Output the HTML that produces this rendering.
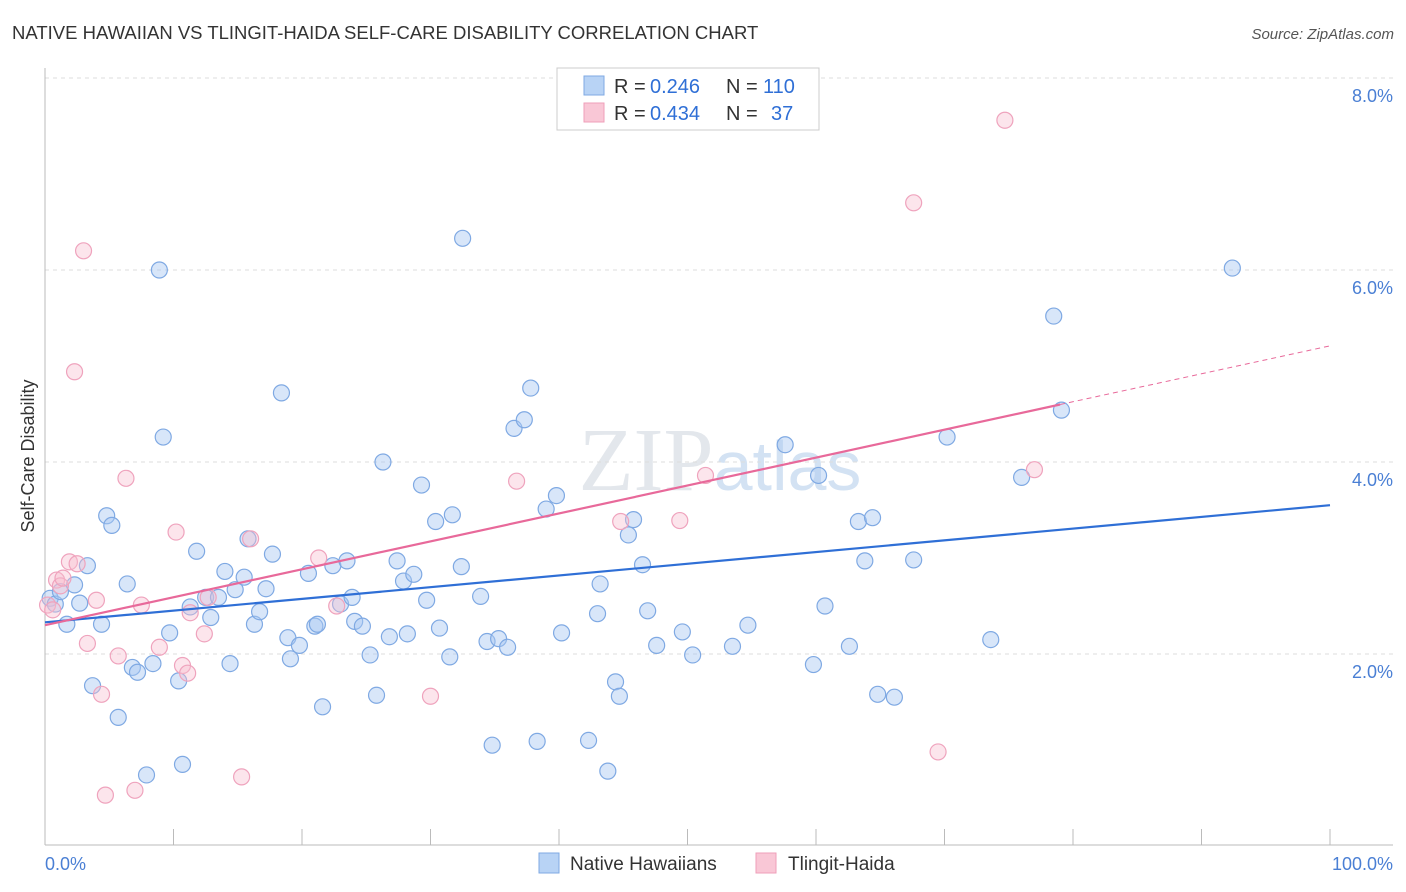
<!DOCTYPE html>
<html><head><meta charset="utf-8"><style>
body{margin:0;background:#fff;font-family:"Liberation Sans",sans-serif;}
svg{display:block}
</style></head><body>
<svg id="chart" width="1406" height="892">
<text x="12" y="39" font-size="18.5" fill="#333">NATIVE HAWAIIAN VS TLINGIT-HAIDA SELF-CARE DISABILITY CORRELATION CHART</text>
<text x="1394" y="39" font-size="15" fill="#555" text-anchor="end" font-style="italic">Source: ZipAtlas.com</text>
<text x="34" y="456" font-size="18" fill="#333" text-anchor="middle" transform="rotate(-90 34 456)">Self-Care Disability</text>
<text x="720" y="490" font-size="90" fill="#e3e7ec" text-anchor="middle" font-family="Liberation Serif">ZIP<tspan fill="#d3e2f3" font-family="Liberation Sans" font-size="70">atlas</tspan></text>
<g id="grid"></g><g id="axes"></g><g id="pts"></g><g id="lines"></g>
<g>
<rect x="557" y="68" width="262" height="62" fill="#fff" stroke="#ccc"/>
<rect x="584" y="76" width="20" height="19" fill="#b8d3f5" stroke="#7fa9e3"/>
<text x="614" y="93" font-size="20" fill="#333">R =</text><text x="650" y="93" font-size="20" fill="#2f6fd6">0.246</text>
<text x="726" y="93" font-size="20" fill="#333">N =</text><text x="763" y="93" font-size="20" fill="#2f6fd6">110</text>
<rect x="584" y="103" width="20" height="19" fill="#f9c7d6" stroke="#ef9fb9"/>
<text x="614" y="120" font-size="20" fill="#333">R =</text><text x="650" y="120" font-size="20" fill="#2f6fd6">0.434</text>
<text x="726" y="120" font-size="20" fill="#333">N =</text><text x="771" y="120" font-size="20" fill="#2f6fd6">37</text>
</g>
<g>
<rect x="539" y="853" width="20" height="20" fill="#b8d3f5" stroke="#7fa9e3"/>
<text x="570" y="870" font-size="19" fill="#333">Native Hawaiians</text>
<rect x="756" y="853" width="20" height="20" fill="#f9c7d6" stroke="#ef9fb9"/>
<text x="788" y="870" font-size="19" fill="#333">Tlingit-Haida</text>
</g>
<text x="45" y="870" font-size="18" fill="#4a7fd4">0.0%</text>
<text x="1393" y="870" font-size="18" fill="#4a7fd4" text-anchor="end">100.0%</text>
</svg>
<script>
const yTicks=[2,4,6,8];
const yTickLabels=["2.0%","4.0%","6.0%","8.0%"];
const xTicks=[0,10,20,30,40,50,60,70,80,90,100];
const blueX=[0.4,0.8,1.2,1.7,2.3,2.7,3.3,3.7,4.4,4.8,5.2,5.7,6.4,6.8,7.2,7.9,8.4,8.9,9.2,9.7,10.4,10.7,11.3,11.8,12.5,12.9,13.5,14.0,14.4,14.8,15.5,15.8,16.3,16.7,17.2,17.7,18.4,18.9,19.1,19.8,20.5,21.0,21.2,21.6,22.4,23.0,23.5,23.9,24.1,24.7,25.3,25.8,26.3,26.8,27.4,27.9,28.2,28.7,29.3,29.7,30.4,30.7,31.5,31.7,32.4,32.5,33.9,34.4,34.8,35.3,36.0,36.5,37.3,37.8,38.3,39.0,39.8,40.2,42.3,43.0,43.2,43.8,44.4,44.7,45.4,45.8,46.5,46.9,47.6,49.6,50.4,53.5,54.7,57.6,59.8,60.2,60.7,62.6,63.3,63.8,64.4,64.8,66.1,67.6,70.2,73.6,76.0,78.5,79.1,92.4];
const blueY=[2.58,2.52,2.65,2.31,2.72,2.53,2.92,1.67,2.31,3.44,3.34,1.34,2.73,1.86,1.81,0.74,1.90,6.00,4.26,2.22,1.72,0.85,2.49,3.07,2.59,2.38,2.59,2.86,1.90,2.67,2.80,3.20,2.31,2.44,2.68,3.04,4.72,2.17,1.95,2.09,2.84,2.29,2.31,1.45,2.92,2.52,2.97,2.59,2.34,2.29,1.99,1.57,4.00,2.18,2.97,2.76,2.21,2.83,3.76,2.56,3.38,2.27,1.97,3.45,2.91,6.33,2.60,2.13,1.05,2.16,2.07,4.35,4.44,4.77,1.09,3.51,3.65,2.22,1.10,2.42,2.73,0.78,1.71,1.56,3.24,3.40,2.93,2.45,2.09,2.23,1.99,2.08,2.30,4.18,1.89,3.86,2.50,2.08,3.38,2.97,3.42,1.58,1.55,2.98,4.26,2.15,3.84,5.52,4.54,6.02];
const pinkX=[0.2,0.6,0.9,1.2,1.4,1.9,2.3,2.5,3.0,3.3,4.0,4.4,4.7,5.7,6.3,7.0,7.5,8.9,10.2,10.7,11.1,11.3,12.4,12.7,15.3,16.0,21.3,22.7,30.0,36.7,44.8,49.4,51.4,67.6,69.5,74.7,77.0];
const pinkY=[2.51,2.46,2.77,2.71,2.79,2.96,4.94,2.94,6.20,2.11,2.56,1.58,0.53,1.98,3.83,0.58,2.51,2.07,3.27,1.88,1.80,2.43,2.21,2.59,0.72,3.20,3.00,2.50,1.56,3.80,3.38,3.39,3.86,6.70,0.98,7.56,3.92];
const blueTrend=[2.33,3.55];
const pinkTrend=[2.30,5.21];
const pinkSolidEnd=79;

const NS="http://www.w3.org/2000/svg";
const X=v=>45+v*12.85;
const Y=v=>846-v*96;
function mk(tag,attrs,parent){const e=document.createElementNS(NS,tag);for(const k in attrs)e.setAttribute(k,attrs[k]);document.getElementById(parent).appendChild(e);return e;}
yTicks.forEach((t,i)=>{
 const l=mk('line',{x1:45,x2:1393,y1:Y(t),y2:Y(t),stroke:'#ddd','stroke-dasharray':'4,4'},'grid');
 
 
 const tx=mk('text',{x:1393,y:Y(t)+24,'font-size':18,fill:'#4a7fd4','text-anchor':'end'},'grid');
 tx.textContent=yTickLabels[i];
 
 
});
let a=mk('line',{x1:45,x2:45,y1:68,y2:845,stroke:'#bbb'},'axes');


a=mk('line',{x1:45,x2:1393,y1:845,y2:845,stroke:'#bbb'},'axes');


xTicks.forEach(t=>{
 const l=mk('line',{x1:X(t),x2:X(t),y1:829,y2:845,stroke:'#bbb'},'axes');
 
 
});
blueX.forEach((x,i)=>{
 const c=mk('circle',{cx:X(x),cy:Y(blueY[i]),r:8,fill:'rgba(168,200,242,0.45)',stroke:'#7fa9e3','stroke-width':1.2},'pts');
 
 
});
pinkX.forEach((x,i)=>{
 const c=mk('circle',{cx:X(x),cy:Y(pinkY[i]),r:8,fill:'rgba(248,190,208,0.4)',stroke:'#efa3bd','stroke-width':1.2},'pts');
 
 
});
let t=mk('line',{x1:X(0),y1:Y(blueTrend[0]),x2:X(100),y2:Y(blueTrend[1]),stroke:'#2f6fd6','stroke-width':2.2},'lines');


const py=x=>pinkTrend[0]+(pinkTrend[1]-pinkTrend[0])*x/100;
t=mk('line',{x1:X(0),y1:Y(py(0)),x2:X(pinkSolidEnd),y2:Y(py(pinkSolidEnd)),stroke:'#e8699a','stroke-width':2.2},'lines');


t=mk('line',{x1:X(pinkSolidEnd),y1:Y(py(pinkSolidEnd)),x2:X(100),y2:Y(py(100)),stroke:'#e8699a','stroke-width':1,'stroke-dasharray':'5,4'},'lines');


</script>
</body></html>
